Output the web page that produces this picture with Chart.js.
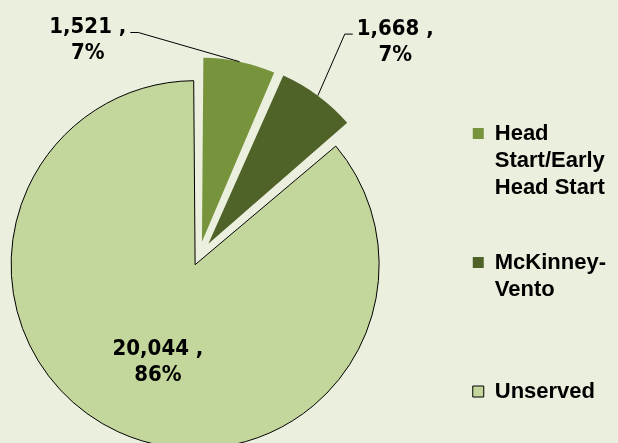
<!DOCTYPE html>
<html>
<head>
<meta charset="utf-8">
<script src="https://cdn.jsdelivr.net/npm/chart.js@4.4.0/dist/chart.umd.min.js"></script>
<style>
  html, body { margin: 0; padding: 0; background: #ebefde; }
  /* the canvas is a bit bigger than the window so the pie can sit left of centre */
  #wrap { position: relative; width: 618px; height: 443px; overflow: hidden; }
  #pie-chart { position: absolute; left: -27px; top: 0; }
</style>
</head>
<body>
<div id="wrap"><canvas id="pie-chart" width="645" height="456"></canvas></div>
<script>
// children served / unserved
const categories = ['Head Start/Early Head Start', 'McKinney-Vento', 'Unserved'];
const children = [1521, 1668, 20044];
// legend text wrapped the way the original legend shows it
const legendLines = [['Head', 'Start/Early', 'Head Start'], ['McKinney-', 'Vento', ''], ['Unserved']];

const fills = ['#77933c', '#4f6228', '#c3d69b'];
const explode = [60, 64, 36]; // chart.js moves a slice by offset / 4
// where each value label sits: turn (deg) from the slice middle, distance in radii
const labelSpot = [{ turn: -39, dist: 1.32 }, { turn: 6, dist: 1.58 }, { turn: -3.5, dist: 0.615 }];

const pieLabels = {
  id: 'pieLabels',
  afterDatasetsDraw(chart) {
    const ctx = chart.ctx;
    const meta = chart.getDatasetMeta(0);
    const total = children.reduce((a, b) => a + b, 0);
    ctx.save();
    ctx.font = 'bold 22px "DejaVu Sans Condensed", "DejaVu Sans"';
    if ('fontStretch' in ctx) ctx.fontStretch = 'condensed';
    ctx.fillStyle = '#000';
    ctx.strokeStyle = '#000';
    ctx.lineWidth = 1;
    ctx.textAlign = 'center';
    ctx.textBaseline = 'middle';
    meta.data.forEach((arc, i) => {
      const p = arc.getProps(['x', 'y', 'startAngle', 'endAngle', 'outerRadius', 'circumference']);
      const mid = (p.startAngle + p.endAngle) / 2;
      const shift = arc.options.offset / 4;
      const fix = 1 - Math.sin(Math.min(Math.PI, p.circumference));
      const r = p.outerRadius + shift * fix;
      const cx = p.x + Math.cos(mid) * shift;
      const cy = p.y + Math.sin(mid) * shift;
      const a = mid + labelSpot[i].turn * Math.PI / 180;
      const lx = p.x + Math.cos(a) * labelSpot[i].dist * r;
      const ly = p.y + Math.sin(a) * labelSpot[i].dist * r;
      const line1 = children[i].toLocaleString('en-US') + ' ,';
      const line2 = Math.round(children[i] / total * 100) + '%';
      ctx.fillText(line1, lx, ly - 13);
      ctx.fillText(line2, lx, ly + 13);
      if (labelSpot[i].dist > 1) {
        const ex = cx + Math.cos(mid) * r;
        const ey = cy + Math.sin(mid) * r;
        const half = ctx.measureText(line1).width / 2;
        const side = ex > lx ? 1 : -1;
        const sx = lx + side * (half + 4);
        const sy = ly - 8;
        ctx.beginPath();
        ctx.moveTo(sx, sy);
        ctx.lineTo(sx + side * 8, sy);
        ctx.lineTo(ex, ey);
        ctx.stroke();
      }
    });
    ctx.restore();
  }
};

new Chart(document.getElementById('pie-chart'), {
  type: 'pie',
  data: {
    labels: categories,
    datasets: [{
      data: children,
      backgroundColor: fills,
      borderColor: ['#77933c', '#4f6228', '#000000'],
      borderWidth: [0, 0, 1],
      borderJoinStyle: 'miter',
      offset: explode,
      radius: 175,
      clip: false
    }]
  },
  options: {
    responsive: false,
    animation: false,
    events: [],
    layout: { padding: { top: 57, bottom: 0, left: 0, right: 2 } },
    plugins: {
      tooltip: { enabled: false },
      legend: {
        position: 'right',
        align: 'center',
        // blank title only pushes the items down a little
        title: { display: true, text: ' ', color: '#000', font: { size: 9, lineHeight: 1 }, padding: { top: 4, bottom: 4 } },
        labels: {
          boxWidth: 11,
          boxHeight: 11,
          padding: 48,
          color: '#000',
          font: { family: '"Liberation Sans", Arial, sans-serif', size: 22, weight: 'bold', lineHeight: '27px' },
          generateLabels: () => legendLines.map((text, i) => ({
            text: text,
            fillStyle: fills[i],
            strokeStyle: '#000',
            fontColor: '#000',
            lineWidth: i === 2 ? 1 : 0,
            hidden: false,
            index: i
          }))
        }
      }
    }
  },
  plugins: [pieLabels]
});
</script>
</body>
</html>
